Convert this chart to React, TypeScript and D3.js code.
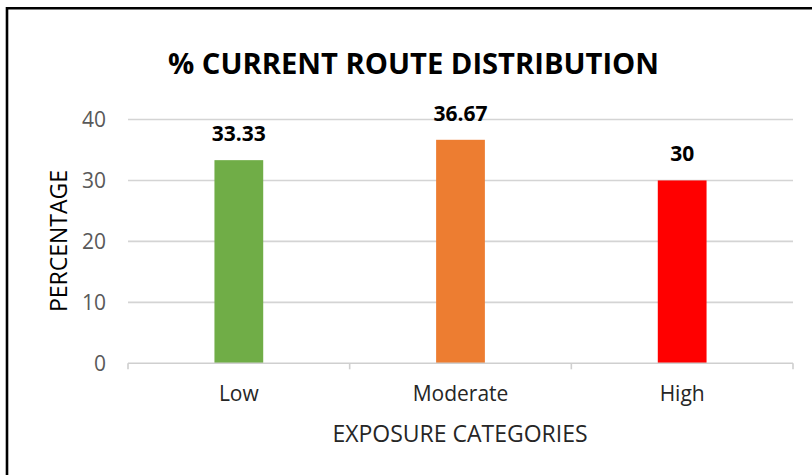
import React from "react";
import * as d3 from "d3";

const categories = ["Low", "Moderate", "High"];
const values = [33.33, 36.67, 30];
const valueLabels = ["33.33", "36.67", "30"];
const barColors = ["#70AD47", "#ED7D31", "#FF0000"];
const yTicks = [0, 10, 20, 30, 40];
const title = "% CURRENT ROUTE DISTRIBUTION";
const xTitle = "EXPOSURE CATEGORIES";
const yTitle = "PERCENTAGE";

const W = 812;
const H = 475;
const left = 128;
const right = 793;
const y0 = 363.3;
const yTop = 119.5;
const font = "'Open Sans', sans-serif";

export default function App() {
  const x = d3.scaleBand<string>().domain(categories).range([left, right]).padding(0);
  const y = d3.scaleLinear().domain([0, 40]).range([y0, yTop]);
  const bw = x.bandwidth() * 0.22;
  const boundaries = d3.range(categories.length + 1).map((i) => left + i * x.step());

  return (
    <svg width={W} height={H} style={{ position: "absolute", left: 0, top: 0, background: "#fff" }}>
      <rect x={0} y={0} width={W} height={H} fill="#fff" />
      <path d={`M7,${H + 5} L7,8.2 L${W + 5},8.2`} fill="none" stroke="#000" strokeWidth={2.6} />
      <text x={413.5} y={73.5} textAnchor="middle" fontFamily={font} fontWeight={700} fontSize={28} fill="#000"
        textLength={491} lengthAdjust="spacingAndGlyphs">{title}</text>
      {yTicks.filter((t) => t !== 0).map((t) => (
        <line key={t} x1={left} x2={right} y1={y(t)} y2={y(t)} stroke="#d4d4d4" strokeWidth={1.6} />
      ))}
      {yTicks.map((t) => (
        <text key={t} x={106} y={y(t) + 7.5} textAnchor="end" fontFamily={font} fontSize={21} fill="#595959">{t}</text>
      ))}
      {categories.map((c, i) => (
        <rect key={c} x={x(c)! + x.bandwidth() / 2 - bw / 2} y={y(values[i])} width={bw} height={y0 - y(values[i])} fill={barColors[i]} />
      ))}
      <line x1={left} x2={right} y1={y0} y2={y0} stroke="#cfcfcf" strokeWidth={1.6} />
      {boundaries.map((b, i) => (
        <line key={i} x1={b} x2={b} y1={y0} y2={y0 + 6} stroke="#cfcfcf" strokeWidth={1.6} />
      ))}
      {categories.map((c, i) => (
        <text key={c} x={x(c)! + x.bandwidth() / 2} y={y(values[i]) - 19} textAnchor="middle" fontFamily={font}
          fontWeight={700} fontSize={21} fill="#000">{valueLabels[i]}</text>
      ))}
      {categories.map((c) => (
        <text key={c} x={x(c)! + x.bandwidth() / 2} y={401} textAnchor="middle" fontFamily={font} fontSize={21} fill="#262626">{c}</text>
      ))}
      <text x={460} y={442} textAnchor="middle" fontFamily={font} fontSize={23} fill="#262626">{xTitle}</text>
      <text transform={`translate(67,241) rotate(-90)`} textAnchor="middle" fontFamily={font} fontSize={23} fill="#000">{yTitle}</text>
    </svg>
  );
}
